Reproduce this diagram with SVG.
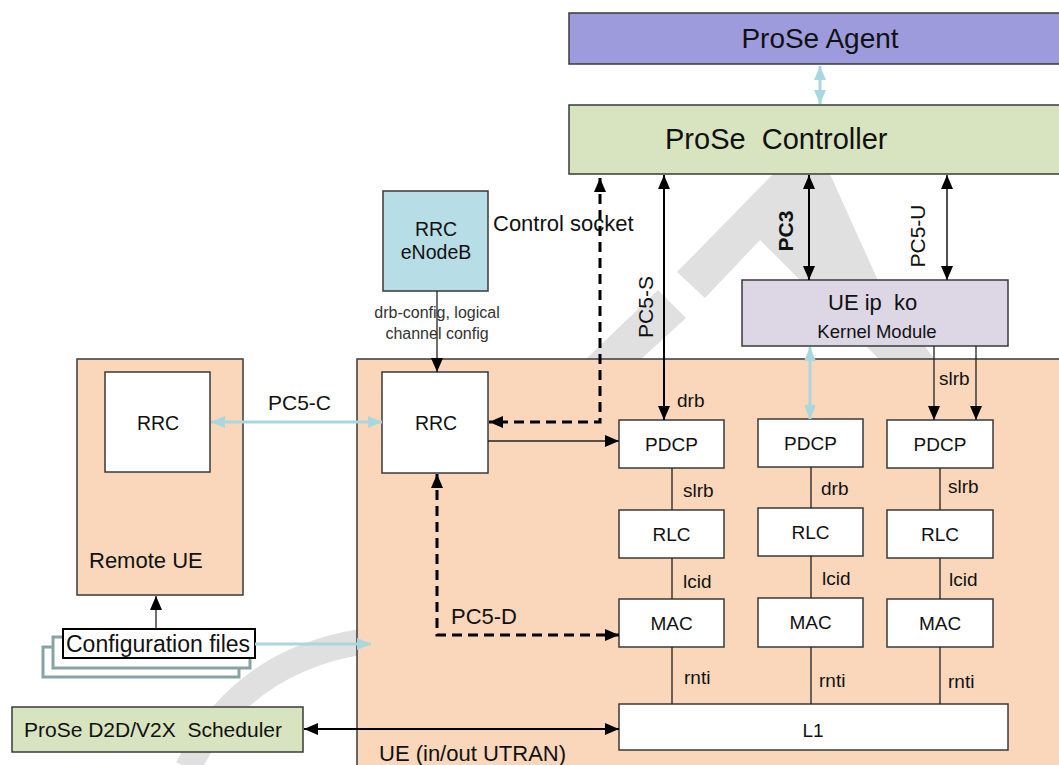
<svg xmlns="http://www.w3.org/2000/svg" width="1059" height="765" viewBox="0 0 1059 765">
<defs>
<style>
text{font-family:"Liberation Sans",Arial,sans-serif;fill:#111}
.box{stroke:#3a3a3a;stroke-width:1.5}
.w{fill:#fff}
.peach{fill:#fad7bb}
.ln{stroke:#222;stroke-width:1.3;fill:none}
.thick{stroke:#000;stroke-width:2;fill:none}
.dash{stroke:#000;stroke-width:3;stroke-dasharray:10 6;fill:none}
.blue{stroke:#aad7de;stroke-width:3;fill:none}
.wm{fill:#e0e0e0}
.mid{text-anchor:middle}
.l19{font-size:19px}
.rrc{font-size:19.5px}
</style>
<marker id="a" markerUnits="userSpaceOnUse" markerWidth="14" markerHeight="12" refX="14" refY="6" orient="auto-start-reverse" viewBox="0 0 14 12"><path d="M0,0 L14,6 L0,12 z" fill="#000"/></marker>
<marker id="b" markerUnits="userSpaceOnUse" markerWidth="14" markerHeight="12" refX="14" refY="6" orient="auto-start-reverse" viewBox="0 0 14 12"><path d="M0,0 L14,6 L0,12 z" fill="#aad7de"/></marker>
</defs>

<g id="watermark">
<polygon class="wm" points="585,360 658,290 686,318 640,360"/>
<polygon class="wm" points="677,272 773,174 830,174 880,285 935,360 880,360 760,240 705,298"/>
<path d="M188,768 Q240,662 360,642" fill="none" stroke="#e0e0e0" stroke-width="26"/>
</g>

<g id="ue">
<rect class="peach box" x="357" y="359" width="710" height="420"/>
<text x="379" y="761" style="font-size:22px">UE (in/out UTRAN)</text>
</g>

<g id="prose-agent">
<rect x="569" y="13" width="500" height="51" fill="#9d9bdc" class="box"/>
<text x="820" y="48" class="mid" style="font-size:28px">ProSe Agent</text>
</g>

<g id="prose-controller">
<rect x="569" y="105" width="500" height="69" fill="#d8e4bf" class="box"/>
<text x="665" y="149" style="font-size:29px" xml:space="preserve">ProSe  Controller</text>
</g>

<g id="rrc-enodeb">
<rect x="383" y="191" width="105" height="100" fill="#b7dde6" class="box"/>
<text x="436" y="236" class="mid rrc">RRC</text>
<text x="436" y="259" class="mid rrc">eNodeB</text>
</g>

<g id="remote-ue">
<rect class="peach box" x="77" y="359" width="166" height="236"/>
<rect class="w box" x="105" y="372" width="105" height="100"/>
<text x="158" y="430" class="mid rrc">RRC</text>
<text x="89" y="568" style="font-size:22px">Remote UE</text>
</g>

<g id="config-files">
<rect x="43" y="647" width="196" height="30" fill="#fff" stroke="#87a3a5" stroke-width="3"/>
<rect x="53" y="637" width="197" height="31" fill="#fff" stroke="#87a3a5" stroke-width="3"/>
<rect x="63" y="629" width="192" height="29" fill="#fff" stroke="#000" stroke-width="2"/>
<text x="66" y="652" style="font-size:23px">Configuration files</text>
</g>

<g id="scheduler">
<rect x="12" y="707" width="291" height="45" fill="#d8e4bf" class="box"/>
<text x="24" y="737" style="font-size:21px" xml:space="preserve">ProSe D2D/V2X  Scheduler</text>
</g>

<g id="rrc-ue">
<rect class="w box" x="382" y="372" width="106" height="101"/>
<text x="436" y="430" class="mid rrc">RRC</text>
</g>

<g id="ue-ip-ko">
<rect x="742" y="280" width="266" height="66" fill="#dcd6e5" class="box"/>
<text x="828" y="310" style="font-size:22px" xml:space="preserve">UE ip  ko</text>
<text x="877" y="338" class="mid" style="font-size:18.5px">Kernel Module</text>
</g>

<g id="pdcp1"><rect class="w box" x="619" y="420" width="105" height="48"/><text x="671.5" y="451" class="mid l19">PDCP</text></g>
<g id="rlc1"><rect class="w box" x="619" y="510" width="105" height="48"/><text x="671.5" y="541" class="mid l19">RLC</text></g>
<g id="mac1"><rect class="w box" x="619" y="599" width="105" height="48"/><text x="671.5" y="630" class="mid l19">MAC</text></g>
<g id="pdcp2"><rect class="w box" x="758" y="419" width="105" height="48"/><text x="810.5" y="450" class="mid l19">PDCP</text></g>
<g id="rlc2"><rect class="w box" x="758" y="508" width="105" height="48"/><text x="810.5" y="539" class="mid l19">RLC</text></g>
<g id="mac2"><rect class="w box" x="758" y="598" width="105" height="49"/><text x="810.5" y="629" class="mid l19">MAC</text></g>
<g id="pdcp3"><rect class="w box" x="887" y="420" width="106" height="48"/><text x="940" y="451" class="mid l19">PDCP</text></g>
<g id="rlc3"><rect class="w box" x="887" y="510" width="106" height="48"/><text x="940" y="541" class="mid l19">RLC</text></g>
<g id="mac3"><rect class="w box" x="887" y="599" width="106" height="48"/><text x="940" y="630" class="mid l19">MAC</text></g>
<g id="l1"><rect class="w box" x="619" y="704" width="389" height="46"/><text x="813" y="737" class="mid l19">L1</text></g>

<g id="connectors">
<path class="blue" d="M820,66 L820,104" marker-start="url(#b)" marker-end="url(#b)"/>
<path class="thick" d="M664,175 L664,420" marker-start="url(#a)" marker-end="url(#a)"/>
<path class="thick" d="M809,175 L809,280" marker-start="url(#a)" marker-end="url(#a)"/>
<path class="ln" style="stroke-width:1.6" d="M947,175 L947,280" marker-start="url(#a)" marker-end="url(#a)"/>
<path class="dash" d="M600,178 L600,422 L489,422" marker-start="url(#a)" marker-end="url(#a)"/>
<path class="ln" d="M437,291 L437,372" marker-end="url(#a)"/>
<path class="ln" d="M488,441 L619,441" marker-end="url(#a)"/>
<path class="dash" d="M437,474 L437,635 L619,635" marker-start="url(#a)" marker-end="url(#a)"/>
<path class="blue" d="M211,422 L382,422" marker-start="url(#b)" marker-end="url(#b)"/>
<path class="ln" d="M156,629 L156,596" marker-end="url(#a)"/>
<path class="blue" d="M255,644 L371,644" marker-end="url(#b)"/>
<path class="thick" d="M304,729 L619,729" marker-start="url(#a)" marker-end="url(#a)"/>
<path class="blue" d="M810,347 L810,419" marker-start="url(#b)" marker-end="url(#b)"/>
<path class="ln" d="M934,346 L934,420" marker-end="url(#a)"/>
<path class="ln" d="M976,346 L976,420" marker-end="url(#a)"/>
<path class="ln" d="M672,468 V510 M672,558 V599 M672,647 V704 M811,467 V508 M811,556 V598 M811,647 V704 M940,468 V510 M940,558 V599 M940,647 V704"/>
</g>

<g id="labels">
<text x="493" y="231" style="font-size:22px">Control socket</text>
<text x="437" y="318" class="mid" style="font-size:16px;fill:#333">drb-config, logical</text>
<text x="437" y="339" class="mid" style="font-size:16px;fill:#333">channel config</text>
<text transform="translate(653,307) rotate(-90)" class="mid" style="font-size:21px">PC5-S</text>
<text transform="translate(793,231) rotate(-90)" class="mid" style="font-size:21px;font-weight:bold">PC3</text>
<text transform="translate(925,236) rotate(-90)" class="mid" style="font-size:21px">PC5-U</text>
<text x="268" y="410" style="font-size:21px">PC5-C</text>
<text x="451" y="624" style="font-size:22px">PC5-D</text>
<text x="677" y="407" class="l19">drb</text>
<text x="939" y="385" class="l19">slrb</text>
<text x="683" y="497" class="l19">slrb</text>
<text x="821" y="495" class="l19">drb</text>
<text x="948" y="493" class="l19">slrb</text>
<text x="683" y="588" class="l19">lcid</text>
<text x="822" y="585" class="l19">lcid</text>
<text x="949" y="586" class="l19">lcid</text>
<text x="684" y="684" class="l19">rnti</text>
<text x="819" y="687" class="l19">rnti</text>
<text x="948" y="688" class="l19">rnti</text>
</g>
</svg>
